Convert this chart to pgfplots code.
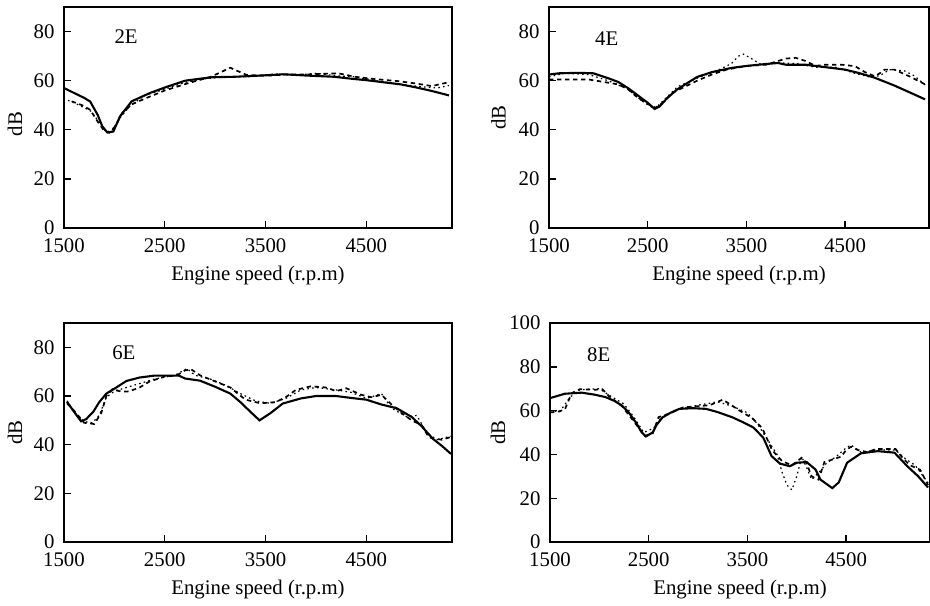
\documentclass[border=0pt]{standalone}
\usepackage{pgfplots}
\pgfplotsset{compat=1.18}
\usepackage{fontspec}
\setmainfont{Liberation Serif}
\pgfplotsset{
  panel/.style={
    scale only axis,
    anchor=south west,
    xmin=1500, xmax=5350,
    ymin=0,
    xtick={1500,2500,3500,4500},
    tick pos=left,
    tick align=inside,
    major tick length=3.6pt,
    axis line style={line width=0.7pt},
    every tick/.style={line width=0.7pt, black},
    /pgf/number format/assume math mode=true,
    /pgf/number format/1000 sep={},
    tick label style={font=\fontsize{10.4}{12}\selectfont},
    label style={font=\fontsize{10.4}{12}\selectfont},
    xticklabel style={yshift=-2pt},
    yticklabel style={xshift=-1.2pt},
    xlabel={Engine speed (r.p.m)},
    ylabel={dB},
    xlabel style={at={(axis description cs:0.5,0)}, anchor=north, yshift=-15.5pt},
    clip=false,
  },
  solidl/.style={black, line width=1.05pt, no markers},
  dashl/.style={black, line width=0.85pt, dash pattern=on 2.2pt off 1.8pt, no markers},
  dotl/.style={black, line width=0.6pt, dash pattern=on 0.8pt off 1.6pt, no markers},
}
\begin{document}
\begin{tikzpicture}
\path[use as bounding box] (0pt,0pt) rectangle (465pt,-302.5pt);
% ---------------- 2E
\begin{axis}[panel, at={(32pt,-114pt)}, width=194pt, height=110.5pt, ymax=90,
  ytick={0,20,40,60,80},
  ylabel style={at={(axis description cs:0,0.47)}, anchor=center, yshift=24.5pt}]
\addplot[solidl] coordinates {(1500,57)(1600,55)(1700,53)(1760,51.5)(1835,46)(1880,41.4)(1930,38.9)(1990,39.3)(2056,45.5)(2172,51.6)(2354,55)(2520,57.5)(2702,60)(2850,60.8)(2973,61.4)(3200,61.6)(3500,62.2)(3680,62.6)(3900,62.1)(4175,61.6)(4350,60.8)(4500,60.2)(4700,59.2)(4840,58.5)(5000,57.2)(5150,55.8)(5320,54)};
\addplot[dashl] coordinates {(1576,51.6)(1680,50)(1758,48.2)(1840,43)(1900,39.5)(1950,38.8)(2010,41.5)(2080,47)(2180,50.5)(2321,53)(2500,56)(2718,58.8)(2950,61.5)(3060,63.5)(3148,65.3)(3230,63.8)(3314,62.3)(3500,62)(3700,62.5)(3900,62.5)(4050,62.8)(4222,63)(4400,61.5)(4600,60.6)(4817,59.8)(5000,58.8)(5150,57.8)(5300,59.2)};
\addplot[dotl] coordinates {(1540,52)(1600,51)(1700,49)(1770,47.5)(1850,43)(1920,39)(1980,40)(2060,45)(2150,49.5)(2300,54)(2500,56.5)(2700,59.3)(2900,60.8)(3100,61.5)(3350,61.6)(3600,62.8)(3800,62.2)(4000,63)(4200,62)(4400,61.5)(4650,59.6)(4850,58.5)(5050,57.5)(5200,57)(5320,58)};
\node[font=\fontsize{10.4}{12}\selectfont] at (axis cs:2116,77.9) {2E};
\end{axis}
% ---------------- 4E
\begin{axis}[panel, at={(274.5pt,-114pt)}, width=190pt, height=110.5pt, ymax=90,
  ytick={0,20,40,60,80},
  ylabel style={at={(axis description cs:0,0.5)}, anchor=center, yshift=25.3pt}]
\addplot[solidl] coordinates {(1500,62.5)(1600,63)(1800,63.2)(1950,63)(2100,61)(2200,59.5)(2300,57)(2400,54)(2500,51)(2570,48.5)(2620,49.5)(2700,53)(2800,56.5)(2900,59)(3000,61.5)(3150,63.5)(3350,65.2)(3500,66)(3700,66.8)(3820,67.2)(3900,66.5)(4100,66.5)(4300,65.5)(4500,64.5)(4650,63)(4800,61.2)(5000,58)(5150,55.3)(5310,52.4)};
\addplot[dashl] coordinates {(1500,60.5)(1700,60.5)(1900,60.5)(2050,59.5)(2200,58.5)(2300,56.5)(2400,53)(2500,50.5)(2580,49)(2650,51)(2750,55)(2900,58)(3000,60)(3150,62.5)(3300,64.5)(3500,66)(3700,66.5)(3900,69)(4000,69.3)(4100,68)(4200,66)(4300,66.5)(4466,66.5)(4600,65.9)(4700,63.5)(4800,61.8)(4850,63)(4900,64.5)(5000,64.5)(5150,61.8)(5310,58.5)};
\addplot[dotl] coordinates {(1500,61.5)(1650,63)(1900,62.5)(2100,60)(2300,56.5)(2450,51.5)(2570,48.5)(2700,53.5)(2800,57.5)(3000,61)(3200,64)(3350,67)(3420,70)(3470,70.8)(3550,69)(3650,66.5)(3800,67.3)(4000,67)(4200,65.5)(4400,65.5)(4600,63)(4750,61.5)(4850,62)(4950,64.5)(5100,64)(5200,62)(5320,58)};
\node[font=\fontsize{10.4}{12}\selectfont] at (axis cs:2085,77.3) {4E};
\end{axis}
% ---------------- 6E
\begin{axis}[panel, at={(32pt,-271pt)}, width=194pt, height=109.5pt, ymax=90,
  ytick={0,20,40,60,80},
  ylabel style={at={(axis description cs:0,0.5)}, anchor=center, yshift=24.5pt}]
\addplot[solidl] coordinates {(1530,57.6)(1600,53.5)(1670,49.6)(1720,50.5)(1790,53.5)(1850,57.5)(1920,61)(2000,63)(2120,66.2)(2250,67.6)(2400,68.4)(2640,68.4)(2700,67.2)(2850,66.3)(3000,63.8)(3150,61)(3250,57.5)(3350,53.5)(3440,50)(3550,53)(3670,56.9)(3850,59)(4000,60)(4200,60)(4350,59.2)(4500,58.5)(4650,56.5)(4800,55)(4950,51.4)(5050,47.5)(5160,42.4)(5250,39.5)(5340,36.2)};
\addplot[dashl] coordinates {(1530,57)(1600,54)(1700,49)(1800,48.5)(1870,53)(1920,60)(1980,62.8)(2050,62)(2120,61.8)(2150,62)(2250,63.5)(2350,66)(2500,68)(2620,68.5)(2700,70.5)(2760,71)(2850,68.5)(3000,66)(3150,63.5)(3300,58.5)(3450,57)(3600,57.5)(3700,59.5)(3800,62.5)(3950,64)(4100,63.5)(4200,62)(4300,63.2)(4450,60.5)(4550,59.5)(4650,60.5)(4750,56.5)(4850,53)(4950,50)(5050,48)(5120,43)(5250,42)(5340,43.2)};
\addplot[dotl] coordinates {(1530,58)(1620,52.5)(1700,49.5)(1780,49)(1850,52)(1920,59.5)(2000,62)(2200,64.5)(2400,67)(2600,68.5)(2720,71.3)(2800,68.5)(2950,67)(3100,64.5)(3250,61)(3400,58)(3550,57)(3700,59)(3850,62.5)(4000,63.5)(4200,62.5)(4350,61.5)(4500,59)(4650,61)(4750,55)(4900,51.5)(5000,52)(5100,45)(5200,42)(5340,43.5)};
\node[font=\fontsize{10.4}{12}\selectfont] at (axis cs:2094,77.7) {6E};
\end{axis}
% ---------------- 8E
\begin{axis}[panel, at={(275pt,-271pt)}, width=190pt, height=109.5pt, ymax=100,
  ytick={0,20,40,60,80,100},
  ylabel style={at={(axis description cs:0,0.5)}, anchor=center, yshift=26pt}]
\addplot[solidl] coordinates {(1500,65.7)(1650,67.7)(1820,68.2)(1950,67.3)(2060,66.2)(2150,64.5)(2230,62.3)(2300,59)(2370,54.6)(2430,50)(2470,48.2)(2540,50)(2580,53.5)(2640,56.9)(2720,59)(2810,60.8)(2950,61.1)(3080,60.8)(3200,59.3)(3350,56.9)(3450,54.8)(3560,52.3)(3660,47.7)(3745,39.2)(3830,35.8)(3930,34.6)(4000,36.2)(4100,36.5)(4190,33.1)(4240,28.5)(4360,24.6)(4425,27.2)(4510,36.2)(4650,40.5)(4820,41.5)(4990,40.8)(5120,34.6)(5230,30)(5330,24.9)};
\addplot[dashl] coordinates {(1500,59.2)(1580,59.5)(1650,60.5)(1720,68)(1800,69.8)(1950,69.5)(2030,69.8)(2100,66.5)(2230,62)(2350,55)(2460,48.5)(2540,49.5)(2600,57)(2700,58.5)(2850,61.5)(3000,62)(3120,62.5)(3250,65)(3320,63)(3420,60)(3550,56.5)(3650,52)(3750,42)(3850,37)(3950,35)(4050,38.5)(4100,36)(4150,30)(4220,28.5)(4280,36.5)(4350,37.5)(4450,39)(4500,42)(4550,43.5)(4620,42)(4720,41)(4800,42.5)(5000,42.5)(5080,38)(5150,35)(5250,33)(5330,26)};
\addplot[dotl] coordinates {(1500,60)(1600,59.5)(1700,66)(1800,69.5)(2000,70)(2100,67)(2250,63)(2350,57)(2450,50)(2550,52)(2620,56.5)(2800,60.5)(3000,62.5)(3200,64)(3350,62)(3500,59)(3600,54)(3700,47)(3800,40)(3850,32)(3900,26)(3950,23.8)(4000,30)(4050,38.9)(4100,34)(4150,28.5)(4250,33)(4300,36)(4400,39)(4500,43)(4550,44.3)(4650,41)(4800,42)(5000,42)(5100,38)(5200,35)(5330,27)};
\node[font=\fontsize{10.4}{12}\selectfont] at (axis cs:1993,85.7) {8E};
\end{axis}
\end{tikzpicture}
\end{document}
